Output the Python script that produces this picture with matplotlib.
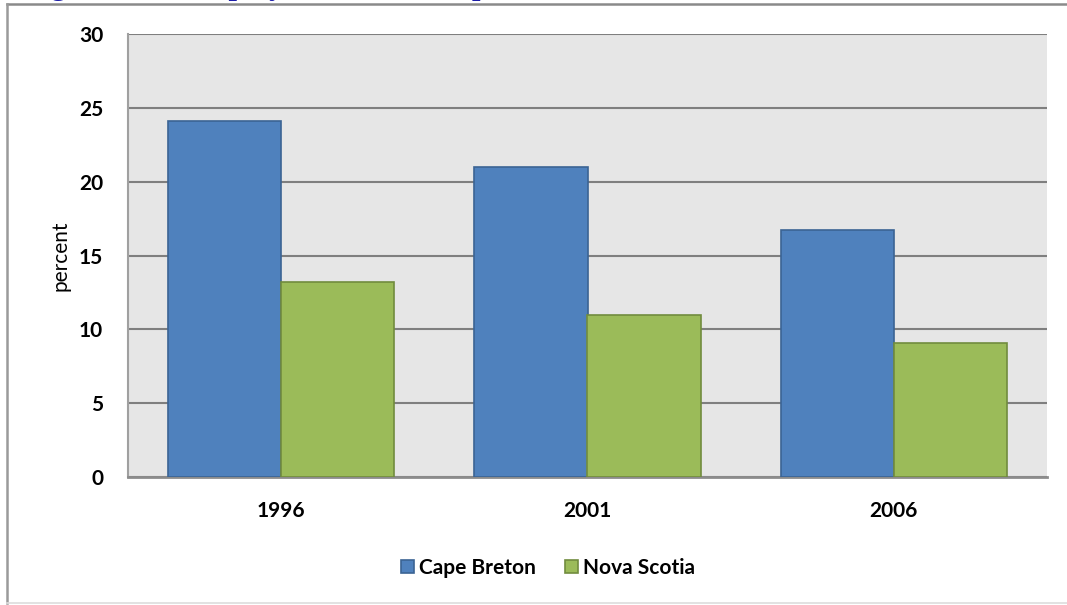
import matplotlib.pyplot as plt
from matplotlib.lines import Line2D

years = ['1996', '2001', '2006']
cape_breton = [24.1, 21.0, 16.7]
nova_scotia = [13.2, 11.0, 9.1]
y_ticks = [0, 5, 10, 15, 20, 25, 30]

blue = '#4F81BD'
blue_edge = '#3B6494'
green = '#9BBB59'
green_edge = '#718C3E'

plt.rcParams['font.family'] = ['Lato', 'DejaVu Sans']

W, H = 1067, 605
fig = plt.figure(figsize=(W / 100, H / 100), dpi=100)

# heading sits above the top edge, only its descenders show
fig.text(24 / W, 1 + 6.5 / H, 'Figure 3: Unemployment Rate, Cape Breton and Nova Scotia',
         family='Liberation Serif', weight='bold', fontsize=22, color='#1c1ca8',
         ha='left', va='baseline', zorder=0)

# frame around the whole figure
fig.add_artist(Line2D([7 / W, 1], [1 - 3.5 / H, 1 - 3.5 / H], color='#8a8a8a', lw=1.8, zorder=5))
fig.add_artist(Line2D([7 / W, 7 / W], [1 - 3.5 / H, 2 / H], color='#9a9a9a', lw=1.8, zorder=5))
fig.add_artist(Line2D([7 / W, 1], [2 / H, 2 / H], color='#dddddd', lw=1.2, zorder=5))

ax = fig.add_axes([128 / W, 1 - 477 / H, (1047 - 128) / W, (477 - 34) / H])
ax.set_facecolor('#E6E6E6')

x = list(range(len(years)))
bw = 0.369
ax.bar([i - bw / 2 for i in x], cape_breton, width=bw, color=blue,
       edgecolor=blue_edge, linewidth=1.2, label='Cape Breton', zorder=3)
ax.bar([i + bw / 2 for i in x], nova_scotia, width=bw, color=green,
       edgecolor=green_edge, linewidth=1.2, label='Nova Scotia', zorder=3)

ax.set_xlim(-0.5, 2.5)
ax.set_ylim(0, 30)
ax.set_yticks(y_ticks)
ax.set_yticklabels([str(t) for t in y_ticks], fontsize=15, weight='bold')
ax.set_xticks(x)
ax.set_xticklabels(years, fontsize=15, weight='bold')
ax.tick_params(axis='both', length=0)
ax.tick_params(axis='y', pad=18)
ax.tick_params(axis='x', pad=17)
ax.yaxis.grid(True, color='#7f7f7f', lw=1.5, zorder=1)
ax.set_axisbelow(True)

for side in ['top', 'right']:
    ax.spines[side].set_visible(False)
ax.spines['left'].set_color('#a0a0a0')
ax.spines['left'].set_linewidth(1.5)
ax.spines['bottom'].set_color('#8c8c8c')
ax.spines['bottom'].set_linewidth(2)

ax.set_ylabel('percent', fontsize=15)
ax.yaxis.set_label_coords(-58 / (1047 - 128), 0.5)

fig.legend(loc='center', bbox_to_anchor=(548 / W, 1 - 568 / H), ncol=2,
           frameon=False, prop={'size': 15, 'weight': 'bold'},
           handlelength=0.6, handleheight=0.6, handletextpad=0.25,
           columnspacing=1.4)

fig.savefig('out.png', dpi=100, facecolor='white')
